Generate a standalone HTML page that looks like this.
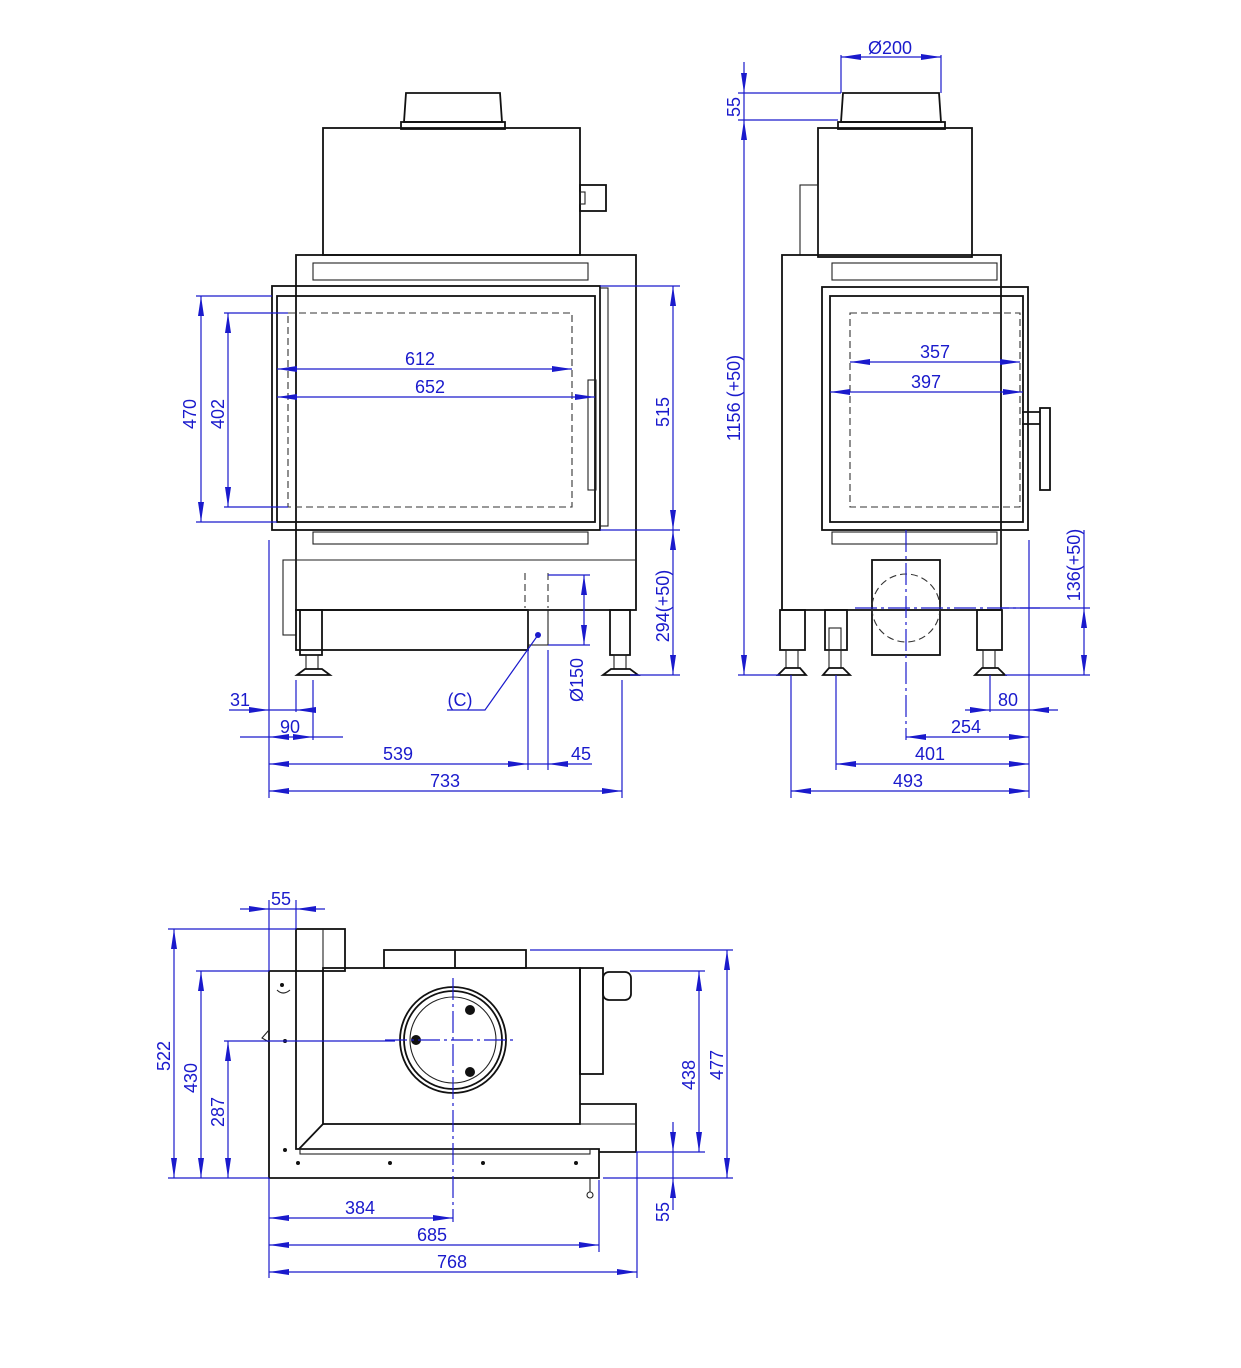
<!DOCTYPE html>
<html><head><meta charset="utf-8"><style>
html,body{margin:0;padding:0;background:#fff;}
svg{display:block;}
text{font-family:"Liberation Sans",sans-serif;font-size:18px;fill:#1a1acc;}
.k{fill:none;stroke:#111;stroke-width:1.8;}
.t{fill:none;stroke:#222;stroke-width:1.1;}
.d{fill:none;stroke:#333;stroke-width:1.1;stroke-dasharray:7 4;}
.b{fill:none;stroke:#1a1acc;stroke-width:1.2;}
.a{fill:none;stroke:#1a1acc;stroke-width:1.2;marker-start:url(#ar);marker-end:url(#ar);}
.e{fill:none;stroke:#1a1acc;stroke-width:1.2;marker-end:url(#ar);}
.c{fill:none;stroke:#1a1acc;stroke-width:1.2;stroke-dasharray:22 4 3 4;}
</style></head><body>
<svg width="1241" height="1368" viewBox="0 0 1241 1368" xmlns="http://www.w3.org/2000/svg">
<defs><marker id="ar" viewBox="0 0 20 8" refX="20" refY="4" markerWidth="20" markerHeight="8" orient="auto-start-reverse" markerUnits="userSpaceOnUse"><path d="M0,1 L20,4 L0,7 Z" fill="#1a1acc"/></marker></defs>

<!-- ============ FRONT VIEW ============ -->
<path class="k" d="M406,93 L500,93 L502,122 L404,122 Z"/>
<rect class="k" x="401" y="122" width="104" height="7"/>
<rect class="k" x="323" y="128" width="257" height="127"/>
<rect class="k" x="580" y="185" width="26" height="26"/>
<rect class="t" x="580" y="192" width="5" height="12"/>
<rect class="k" x="296" y="255" width="340" height="355"/>
<rect class="t" x="313" y="263" width="275" height="17"/>
<rect class="k" x="272" y="286" width="328" height="244"/>
<rect class="k" x="277" y="296" width="318" height="226"/>
<rect class="d" x="288" y="313" width="284" height="194"/>
<rect class="t" x="588" y="380" width="8" height="110"/>
<rect class="t" x="600" y="288" width="8" height="238"/>
<rect class="t" x="313" y="532" width="275" height="12"/>
<line class="t" x1="296" y1="560" x2="636" y2="560"/>
<rect class="t" x="283" y="560" width="13" height="75"/>
<rect class="k" x="296" y="610" width="232" height="40"/>
<rect class="t" x="528" y="610" width="20" height="35"/>
<path class="d" d="M525,573 L525,608 M548,573 L548,608"/>
<circle cx="538" cy="635" r="3" fill="#1a1acc"/>
<rect class="k" x="300" y="610" width="22" height="45"/>
<rect class="t" x="306" y="655" width="12" height="14"/>
<path class="k" d="M297,675 L330,675 L322,669 L305,669 Z"/>
<rect class="k" x="610" y="610" width="20" height="45"/>
<rect class="t" x="614" y="655" width="12" height="14"/>
<path class="k" d="M603,675 L638,675 L630,669 L611,669 Z"/>

<!-- front dimensions -->
<path class="b" d="M196,296 L272,296 M196,522 L277,522 M224,313 L288,313 M224,507 L288,507"/>
<line class="a" x1="201" y1="296" x2="201" y2="522"/>
<line class="a" x1="228" y1="313" x2="228" y2="507"/>
<text x="196" y="414" transform="rotate(-90 196 414)" text-anchor="middle">470</text>
<text x="224" y="414" transform="rotate(-90 224 414)" text-anchor="middle">402</text>
<line class="a" x1="277" y1="369" x2="572" y2="369"/><text x="420" y="365" text-anchor="middle">612</text>
<line class="a" x1="277" y1="397" x2="595" y2="397"/><text x="430" y="393" text-anchor="middle">652</text>
<path class="b" d="M600,286 L680,286 M600,530 L680,530 M630,675 L680,675"/>
<line class="a" x1="673" y1="286" x2="673" y2="530"/>
<line class="a" x1="673" y1="530" x2="673" y2="675"/>
<text x="669" y="412" transform="rotate(-90 669 412)" text-anchor="middle">515</text>
<text x="669" y="606" transform="rotate(-90 669 606)" text-anchor="middle">294(+50)</text>
<path class="b" d="M548,575 L590,575 M548,645 L590,645"/>
<line class="a" x1="584" y1="575" x2="584" y2="645"/>
<text x="583" y="680" transform="rotate(-90 583 680)" text-anchor="middle">Ø150</text>
<path class="b" d="M538,635 L485,710 L447,710"/><text x="460" y="706" text-anchor="middle">(C)</text>
<path class="b" d="M269,540 L269,798 M296,680 L296,712 M313,680 L313,740 M528,650 L528,770 M548,650 L548,770 M622,680 L622,798"/>
<line class="e" x1="229" y1="710" x2="269" y2="710"/><line class="b" x1="269" y1="710" x2="296" y2="710"/><line class="e" x1="316" y1="710" x2="296" y2="710"/>
<text x="240" y="706" text-anchor="middle">31</text>
<line class="b" x1="240" y1="737" x2="269" y2="737"/><line class="a" x1="269" y1="737" x2="313" y2="737"/><line class="b" x1="313" y1="737" x2="343" y2="737"/>
<text x="290" y="733" text-anchor="middle">90</text>
<line class="a" x1="269" y1="764" x2="528" y2="764"/><text x="398" y="760" text-anchor="middle">539</text>
<line class="b" x1="528" y1="764" x2="548" y2="764"/><line class="e" x1="592" y1="764" x2="548" y2="764"/><text x="581" y="760" text-anchor="middle">45</text>
<line class="a" x1="269" y1="791" x2="622" y2="791"/><text x="445" y="787" text-anchor="middle">733</text>

<!-- ============ SIDE VIEW ============ -->
<path class="k" d="M843,93 L939,93 L941,122 L841,122 Z"/>
<rect class="k" x="838" y="122" width="107" height="7"/>
<rect class="k" x="818" y="128" width="154" height="129"/>
<rect class="t" x="800" y="185" width="18" height="70"/>
<rect class="k" x="782" y="255" width="219" height="355"/>
<rect class="t" x="832" y="263" width="165" height="17"/>
<rect class="k" x="822" y="287" width="206" height="243"/>
<rect class="k" x="830" y="296" width="193" height="226"/>
<rect class="d" x="850" y="313" width="170" height="194"/>
<line class="t" x1="1001" y1="530" x2="1001" y2="600"/>
<rect class="t" x="832" y="532" width="165" height="12"/>
<path class="k" d="M1022,412 L1040,412 M1022,424 L1040,424"/>
<rect class="k" x="1040" y="408" width="10" height="82"/>
<rect class="k" x="872" y="560" width="68" height="95"/>
<circle class="d" cx="906" cy="608" r="34"/>
<rect class="k" x="780" y="610" width="25" height="40"/>
<rect class="t" x="786" y="650" width="12" height="18"/>
<path class="k" d="M778,675 L806,675 L800,668 L785,668 Z"/>
<rect class="k" x="825" y="610" width="22" height="40"/>
<rect class="t" x="829" y="628" width="12" height="22"/>
<rect class="t" x="829" y="650" width="12" height="18"/>
<path class="k" d="M823,675 L850,675 L843,668 L829,668 Z"/>
<rect class="k" x="977" y="610" width="25" height="40"/>
<rect class="t" x="983" y="650" width="12" height="18"/>
<path class="k" d="M975,675 L1005,675 L998,668 L982,668 Z"/>
<path class="c" d="M906,530 L906,740 M855,608 L1040,608"/>

<!-- side dimensions -->
<path class="b" d="M841,55 L841,93 M941,55 L941,93"/>
<line class="a" x1="841" y1="57" x2="941" y2="57"/><text x="890" y="54" text-anchor="middle">Ø200</text>
<path class="b" d="M738,93 L841,93 M738,120 L838,120 M738,675 L780,675"/>
<line class="e" x1="744" y1="62" x2="744" y2="93"/><line class="b" x1="744" y1="93" x2="744" y2="120"/>
<line class="a" x1="744" y1="120" x2="744" y2="675"/>
<text x="740" y="107" transform="rotate(-90 740 107)" text-anchor="middle">55</text>
<text x="740" y="398" transform="rotate(-90 740 398)" text-anchor="middle">1156 (+50)</text>
<path class="b" d="M1001,608 L1090,608 M1005,675 L1090,675"/>
<line class="b" x1="1084" y1="530" x2="1084" y2="608"/><line class="a" x1="1084" y1="608" x2="1084" y2="675"/>
<text x="1080" y="565" transform="rotate(-90 1080 565)" text-anchor="middle">136(+50)</text>
<line class="a" x1="850" y1="362" x2="1020" y2="362"/><text x="935" y="358" text-anchor="middle">357</text>
<line class="a" x1="830" y1="392" x2="1023" y2="392"/><text x="926" y="388" text-anchor="middle">397</text>
<path class="b" d="M791,675 L791,798 M836,675 L836,770 M990,675 L990,712 M1029,540 L1029,798"/>
<line class="e" x1="965" y1="710" x2="990" y2="710"/><line class="b" x1="990" y1="710" x2="1029" y2="710"/><line class="e" x1="1058" y1="710" x2="1029" y2="710"/>
<text x="1008" y="706" text-anchor="middle">80</text>
<line class="a" x1="906" y1="737" x2="1029" y2="737"/><text x="966" y="733" text-anchor="middle">254</text>
<line class="a" x1="836" y1="764" x2="1029" y2="764"/><text x="930" y="760" text-anchor="middle">401</text>
<line class="a" x1="791" y1="791" x2="1029" y2="791"/><text x="908" y="787" text-anchor="middle">493</text>

<!-- ============ TOP VIEW ============ -->
<path class="k" d="M269,971 L296,971 L296,1149 L599,1149 L599,1178 L269,1178 Z"/>
<rect class="k" x="296" y="929" width="49" height="42"/>
<line class="t" x1="323" y1="929" x2="323" y2="1124"/>
<rect class="k" x="323" y="968" width="257" height="156"/>
<line class="k" x1="299" y1="1149" x2="323" y2="1124"/>
<rect class="k" x="384" y="950" width="142" height="18"/>
<line class="k" x1="455" y1="950" x2="455" y2="968"/>
<rect class="k" x="580" y="968" width="23" height="106"/>
<path class="k" d="M580,1104 L636,1104 L636,1152 L599,1152"/>
<line class="t" x1="580" y1="1124" x2="636" y2="1124"/>
<rect class="k" x="603" y="972" width="28" height="28" rx="6"/>
<rect class="t" x="300" y="1149" width="290" height="5"/>
<circle class="k" cx="453" cy="1040" r="53"/>
<circle class="k" cx="453" cy="1040" r="49"/>
<circle class="t" cx="453" cy="1040" r="43"/>
<circle cx="470" cy="1010" r="5" fill="#111"/><circle cx="416" cy="1040" r="5" fill="#111"/><circle cx="470" cy="1072" r="5" fill="#111"/>
<g fill="#111"><circle cx="285" cy="1041" r="2"/><circle cx="285" cy="1150" r="2"/><circle cx="298" cy="1163" r="2"/><circle cx="390" cy="1163" r="2"/><circle cx="483" cy="1163" r="2"/><circle cx="576" cy="1163" r="2"/><circle cx="282" cy="985" r="2"/></g>
<path class="t" d="M277,990 Q283,996 290,990"/>
<path class="t" d="M269,1030 L262,1038 L269,1042"/>
<circle class="t" cx="590" cy="1195" r="3"/><line class="t" x1="590" y1="1178" x2="590" y2="1192"/>
<path class="c" d="M453,978 L453,1222 M385,1040 L515,1040"/>

<!-- top dimensions -->
<path class="b" d="M269,900 L269,971 M296,900 L296,929"/>
<line class="e" x1="240" y1="909" x2="269" y2="909"/><line class="b" x1="269" y1="909" x2="296" y2="909"/><line class="e" x1="325" y1="909" x2="296" y2="909"/>
<text x="281" y="905" text-anchor="middle">55</text>
<path class="b" d="M168,929 L296,929 M196,971 L269,971 M224,1041 L395,1041 M168,1178 L269,1178"/>
<line class="a" x1="174" y1="929" x2="174" y2="1178"/>
<line class="a" x1="201" y1="971" x2="201" y2="1178"/>
<line class="a" x1="228" y1="1041" x2="228" y2="1178"/>
<text x="170" y="1056" transform="rotate(-90 170 1056)" text-anchor="middle">522</text>
<text x="197" y="1078" transform="rotate(-90 197 1078)" text-anchor="middle">430</text>
<text x="224" y="1112" transform="rotate(-90 224 1112)" text-anchor="middle">287</text>
<path class="b" d="M530,950 L733,950 M630,971 L705,971 M636,1152 L705,1152 M603,1178 L733,1178"/>
<line class="a" x1="727" y1="950" x2="727" y2="1178"/>
<line class="a" x1="699" y1="971" x2="699" y2="1152"/>
<text x="723" y="1065" transform="rotate(-90 723 1065)" text-anchor="middle">477</text>
<text x="695" y="1075" transform="rotate(-90 695 1075)" text-anchor="middle">438</text>
<line class="e" x1="673" y1="1122" x2="673" y2="1152"/><line class="b" x1="673" y1="1152" x2="673" y2="1178"/><line class="e" x1="673" y1="1210" x2="673" y2="1178"/>
<text x="669" y="1212" transform="rotate(-90 669 1212)" text-anchor="middle">55</text>
<path class="b" d="M269,1178 L269,1278 M599,1180 L599,1252 M637,1152 L637,1278"/>
<line class="a" x1="269" y1="1218" x2="453" y2="1218"/><text x="360" y="1214" text-anchor="middle">384</text>
<line class="a" x1="269" y1="1245" x2="599" y2="1245"/><text x="432" y="1241" text-anchor="middle">685</text>
<line class="a" x1="269" y1="1272" x2="637" y2="1272"/><text x="452" y="1268" text-anchor="middle">768</text>
</svg>
</body></html>
